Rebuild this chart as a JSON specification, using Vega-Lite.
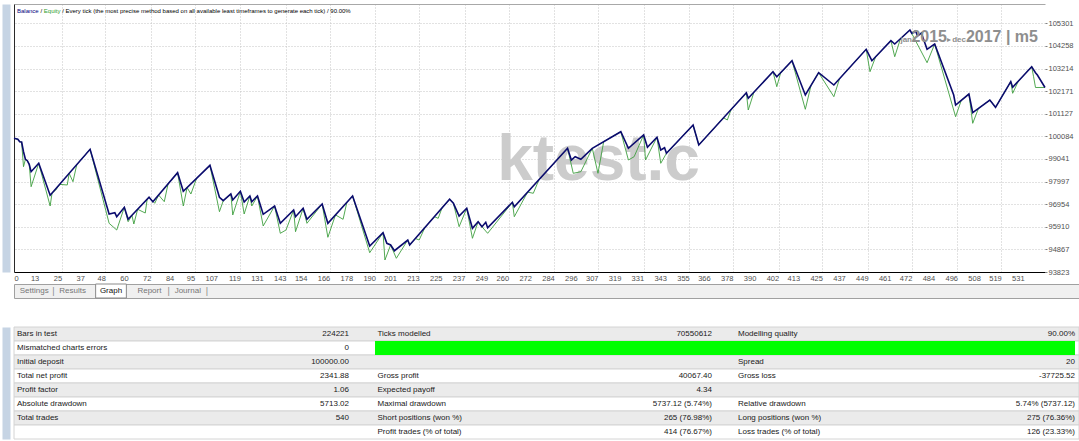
{
  "$schema": "https://vega.github.io/schema/vega-lite/v6.json",
  "padding": {"left": 6, "top": 4, "right": 0, "bottom": 0},
  "background": "white",
  "bounds": "flush",
  "spacing": 12,
  "config": {"font": "Liberation Sans", "view": {"stroke": null}},
  "datasets": {
    "curve": [
      {"s":"Balance","n":0,"v":100000},{"s":"Balance","n":2,"v":99950},{"s":"Balance","n":3,"v":99839},{"s":"Balance","n":4,"v":99825},{"s":"Balance","n":5,"v":99377},{"s":"Balance","n":6,"v":99026},{"s":"Balance","n":7,"v":98962},{"s":"Balance","n":8,"v":98796},{"s":"Balance","n":9,"v":98454},{"s":"Balance","n":13,"v":98842},{"s":"Balance","n":19,"v":97364},{"s":"Balance","n":40,"v":99488},{"s":"Balance","n":50,"v":96501},{"s":"Balance","n":53,"v":96561},{"s":"Balance","n":54,"v":96376},{"s":"Balance","n":58,"v":96810},{"s":"Balance","n":60,"v":96256},{"s":"Balance","n":71,"v":97272},{"s":"Balance","n":73,"v":97069},{"s":"Balance","n":86,"v":98408},{"s":"Balance","n":89,"v":97549},{"s":"Balance","n":103,"v":98749},{"s":"Balance","n":108,"v":97272},{"s":"Balance","n":110,"v":97115},{"s":"Balance","n":114,"v":97424},{"s":"Balance","n":115,"v":97147},{"s":"Balance","n":119,"v":97549},{"s":"Balance","n":121,"v":97055},{"s":"Balance","n":124,"v":97332},{"s":"Balance","n":125,"v":97069},{"s":"Balance","n":128,"v":97332},{"s":"Balance","n":131,"v":96487},{"s":"Balance","n":137,"v":96870},{"s":"Balance","n":140,"v":96071},{"s":"Balance","n":147,"v":96686},{"s":"Balance","n":148,"v":96376},{"s":"Balance","n":152,"v":96764},{"s":"Balance","n":154,"v":96256},{"s":"Balance","n":162,"v":96963},{"s":"Balance","n":165,"v":96071},{"s":"Balance","n":178,"v":97332},{"s":"Balance","n":187,"v":95023},{"s":"Balance","n":194,"v":95637},{"s":"Balance","n":196,"v":95148},{"s":"Balance","n":198,"v":95070},{"s":"Balance","n":200,"v":94806},{"s":"Balance","n":207,"v":95300},{"s":"Balance","n":208,"v":95070},{"s":"Balance","n":229,"v":97180},{"s":"Balance","n":231,"v":96995},{"s":"Balance","n":234,"v":96409},{"s":"Balance","n":238,"v":96764},{"s":"Balance","n":241,"v":95841},{"s":"Balance","n":244,"v":96145},{"s":"Balance","n":246,"v":95915},{"s":"Balance","n":248,"v":96118},{"s":"Balance","n":249,"v":95868},{"s":"Balance","n":262,"v":97041},{"s":"Balance","n":263,"v":96838},{"s":"Balance","n":291,"v":99534},{"s":"Balance","n":293,"v":98994},{"s":"Balance","n":295,"v":99146},{"s":"Balance","n":298,"v":99026},{"s":"Balance","n":304,"v":99534},{"s":"Balance","n":319,"v":100301},{"s":"Balance","n":323,"v":99534},{"s":"Balance","n":331,"v":100148},{"s":"Balance","n":333,"v":99580},{"s":"Balance","n":338,"v":100042},{"s":"Balance","n":340,"v":99456},{"s":"Balance","n":342,"v":99562},{"s":"Balance","n":343,"v":99303},{"s":"Balance","n":357,"v":100610},{"s":"Balance","n":360,"v":99687},{"s":"Balance","n":385,"v":102101},{"s":"Balance","n":386,"v":101843},{"s":"Balance","n":399,"v":103071},{"s":"Balance","n":401,"v":102840},{"s":"Balance","n":409,"v":103579},{"s":"Balance","n":416,"v":101995},{"s":"Balance","n":423,"v":103025},{"s":"Balance","n":431,"v":102457},{"s":"Balance","n":448,"v":104105},{"s":"Balance","n":451,"v":103579},{"s":"Balance","n":461,"v":104502},{"s":"Balance","n":463,"v":104350},{"s":"Balance","n":471,"v":104996},{"s":"Balance","n":472,"v":104844},{"s":"Balance","n":474,"v":104950},{"s":"Balance","n":475,"v":104719},{"s":"Balance","n":477,"v":104858},{"s":"Balance","n":480,"v":104105},{"s":"Balance","n":484,"v":104350},{"s":"Balance","n":494,"v":101995},{"s":"Balance","n":495,"v":101533},{"s":"Balance","n":502,"v":102041},{"s":"Balance","n":504,"v":101178},{"s":"Balance","n":513,"v":101764},{"s":"Balance","n":516,"v":101427},{"s":"Balance","n":524,"v":102609},{"s":"Balance","n":525,"v":102351},{"s":"Balance","n":535,"v":103302},{"s":"Balance","n":537,"v":103025},{"s":"Balance","n":538,"v":102918},{"s":"Balance","n":542,"v":102342},
      {"s":"Equity","n":0,"v":100000},{"s":"Equity","n":2,"v":99950},{"s":"Equity","n":3,"v":99839},{"s":"Equity","n":4,"v":99825},{"s":"Equity","n":5,"v":98685},{"s":"Equity","n":6,"v":99026},{"s":"Equity","n":7,"v":98962},{"s":"Equity","n":8,"v":98796},{"s":"Equity","n":9,"v":97761},{"s":"Equity","n":13,"v":98842},{"s":"Equity","n":19,"v":96870},{"s":"Equity","n":20,"v":97465},{"s":"Equity","n":22,"v":97609},{"s":"Equity","n":24,"v":97870},{"s":"Equity","n":28,"v":97840},{"s":"Equity","n":29,"v":98376},{"s":"Equity","n":31,"v":97992},{"s":"Equity","n":33,"v":98780},{"s":"Equity","n":40,"v":99488},{"s":"Equity","n":50,"v":96071},{"s":"Equity","n":54,"v":95762},{"s":"Equity","n":58,"v":96810},{"s":"Equity","n":60,"v":96145},{"s":"Equity","n":62,"v":96441},{"s":"Equity","n":63,"v":96039},{"s":"Equity","n":65,"v":96718},{"s":"Equity","n":69,"v":96547},{"s":"Equity","n":70,"v":97180},{"s":"Equity","n":71,"v":97272},{"s":"Equity","n":74,"v":96995},{"s":"Equity","n":76,"v":97378},{"s":"Equity","n":79,"v":97069},{"s":"Equity","n":81,"v":97893},{"s":"Equity","n":86,"v":98408},{"s":"Equity","n":89,"v":96870},{"s":"Equity","n":91,"v":97720},{"s":"Equity","n":93,"v":97424},{"s":"Equity","n":96,"v":98149},{"s":"Equity","n":103,"v":98749},{"s":"Equity","n":108,"v":96607},{"s":"Equity","n":110,"v":97115},{"s":"Equity","n":114,"v":97424},{"s":"Equity","n":115,"v":96455},{"s":"Equity","n":119,"v":97549},{"s":"Equity","n":121,"v":96501},{"s":"Equity","n":124,"v":97332},{"s":"Equity","n":125,"v":96870},{"s":"Equity","n":128,"v":97332},{"s":"Equity","n":131,"v":95947},{"s":"Equity","n":137,"v":96870},{"s":"Equity","n":140,"v":95610},{"s":"Equity","n":143,"v":95762},{"s":"Equity","n":147,"v":96686},{"s":"Equity","n":148,"v":95684},{"s":"Equity","n":152,"v":96764},{"s":"Equity","n":154,"v":96071},{"s":"Equity","n":162,"v":96963},{"s":"Equity","n":165,"v":95425},{"s":"Equity","n":169,"v":96459},{"s":"Equity","n":173,"v":96256},{"s":"Equity","n":175,"v":97041},{"s":"Equity","n":178,"v":97332},{"s":"Equity","n":187,"v":94714},{"s":"Equity","n":194,"v":95637},{"s":"Equity","n":195,"v":94377},{"s":"Equity","n":198,"v":95070},{"s":"Equity","n":201,"v":94456},{"s":"Equity","n":207,"v":95300},{"s":"Equity","n":208,"v":95070},{"s":"Equity","n":211,"v":95371},{"s":"Equity","n":213,"v":95300},{"s":"Equity","n":216,"v":95874},{"s":"Equity","n":221,"v":96376},{"s":"Equity","n":223,"v":96302},{"s":"Equity","n":225,"v":96778},{"s":"Equity","n":229,"v":97180},{"s":"Equity","n":231,"v":96995},{"s":"Equity","n":234,"v":95915},{"s":"Equity","n":238,"v":96764},{"s":"Equity","n":241,"v":95379},{"s":"Equity","n":244,"v":96145},{"s":"Equity","n":246,"v":95915},{"s":"Equity","n":249,"v":95610},{"s":"Equity","n":262,"v":97041},{"s":"Equity","n":263,"v":96376},{"s":"Equity","n":270,"v":97512},{"s":"Equity","n":273,"v":97457},{"s":"Equity","n":276,"v":98090},{"s":"Equity","n":291,"v":99534},{"s":"Equity","n":294,"v":98380},{"s":"Equity","n":298,"v":98454},{"s":"Equity","n":304,"v":99534},{"s":"Equity","n":307,"v":98380},{"s":"Equity","n":310,"v":99840},{"s":"Equity","n":319,"v":100301},{"s":"Equity","n":323,"v":98994},{"s":"Equity","n":326,"v":99146},{"s":"Equity","n":331,"v":100148},{"s":"Equity","n":332,"v":98994},{"s":"Equity","n":338,"v":100042},{"s":"Equity","n":340,"v":98842},{"s":"Equity","n":343,"v":99303},{"s":"Equity","n":357,"v":100610},{"s":"Equity","n":360,"v":99687},{"s":"Equity","n":373,"v":100943},{"s":"Equity","n":375,"v":100841},{"s":"Equity","n":377,"v":101330},{"s":"Equity","n":385,"v":102101},{"s":"Equity","n":386,"v":101303},{"s":"Equity","n":389,"v":102127},{"s":"Equity","n":399,"v":103071},{"s":"Equity","n":401,"v":102378},{"s":"Equity","n":403,"v":103007},{"s":"Equity","n":409,"v":103579},{"s":"Equity","n":416,"v":101335},{"s":"Equity","n":419,"v":102437},{"s":"Equity","n":423,"v":103025},{"s":"Equity","n":431,"v":101917},{"s":"Equity","n":434,"v":102748},{"s":"Equity","n":448,"v":104105},{"s":"Equity","n":450,"v":103071},{"s":"Equity","n":453,"v":103764},{"s":"Equity","n":461,"v":104502},{"s":"Equity","n":463,"v":103763},{"s":"Equity","n":466,"v":104592},{"s":"Equity","n":471,"v":104996},{"s":"Equity","n":480,"v":103486},{"s":"Equity","n":484,"v":104350},{"s":"Equity","n":495,"v":100993},{"s":"Equity","n":498,"v":101751},{"s":"Equity","n":502,"v":102041},{"s":"Equity","n":504,"v":100688},{"s":"Equity","n":507,"v":101373},{"s":"Equity","n":513,"v":101764},{"s":"Equity","n":516,"v":101427},{"s":"Equity","n":524,"v":102609},{"s":"Equity","n":525,"v":102074},{"s":"Equity","n":528,"v":102636},{"s":"Equity","n":535,"v":103302},{"s":"Equity","n":536,"v":102840},{"s":"Equity","n":537,"v":102342},{"s":"Equity","n":542,"v":102342}
    ],
    "tabs": [{"tab":"Settings"},{"tab":"Results"},{"tab":"Graph"},{"tab":"Report"},{"tab":"Journal"}],
    "table": [
      {"row":1,"col":"c1","label":"Bars in test","value":"224221"},
      {"row":1,"col":"c2","label":"Ticks modelled","value":"70550612"},
      {"row":1,"col":"c3","label":"Modelling quality","value":"90.00%"},
      {"row":2,"col":"c1","label":"Mismatched charts errors","value":"0"},
      {"row":2,"col":"c2","label":"","value":""},
      {"row":2,"col":"c3","label":"","value":""},
      {"row":3,"col":"c1","label":"Initial deposit","value":"100000.00"},
      {"row":3,"col":"c2","label":"","value":""},
      {"row":3,"col":"c3","label":"Spread","value":"20"},
      {"row":4,"col":"c1","label":"Total net profit","value":"2341.88"},
      {"row":4,"col":"c2","label":"Gross profit","value":"40067.40"},
      {"row":4,"col":"c3","label":"Gross loss","value":"-37725.52"},
      {"row":5,"col":"c1","label":"Profit factor","value":"1.06"},
      {"row":5,"col":"c2","label":"Expected payoff","value":"4.34"},
      {"row":5,"col":"c3","label":"","value":""},
      {"row":6,"col":"c1","label":"Absolute drawdown","value":"5713.02"},
      {"row":6,"col":"c2","label":"Maximal drawdown","value":"5737.12 (5.74%)"},
      {"row":6,"col":"c3","label":"Relative drawdown","value":"5.74% (5737.12)"},
      {"row":7,"col":"c1","label":"Total trades","value":"540"},
      {"row":7,"col":"c2","label":"Short positions (won %)","value":"265 (76.98%)"},
      {"row":7,"col":"c3","label":"Long positions (won %)","value":"275 (76.36%)"},
      {"row":8,"col":"c1","label":"","value":""},
      {"row":8,"col":"c2","label":"Profit trades (% of total)","value":"414 (76.67%)"},
      {"row":8,"col":"c3","label":"Loss trades (% of total)","value":"126 (23.33%)"}
    ]
  },
  "vconcat": [
    {
      "width": 1031,
      "height": 268,
      "view": {"stroke": null},
      "resolve": {"axis": {"x": "independent", "y": "independent"}},
      "layer": [
        {
          "data": {"values": [{}]},
          "mark": {"type": "text", "text": "ktest.c", "font": "Liberation Sans", "fontWeight": "bold", "fontSize": 64, "color": "#cccccc", "align": "left", "baseline": "alphabetic"},
          "encoding": {
            "x": {"datum": 254, "type": "quantitative", "scale": {"domain": [0, 542], "nice": false, "zero": false},
                  "axis": {"orient": "bottom", "values": [25,48,72,95,119,143,166,190,213,237,260,284,307,331,355,378,402,425,449,472,496,519], "grid": true, "gridColor": "#c4c4c4", "gridDash": [1, 2], "gridWidth": 1, "labels": false, "ticks": false, "domain": false, "title": null}},
            "y": {"datum": 98070, "type": "quantitative", "scale": {"domain": [93823, 106197], "nice": false, "zero": false},
                  "axis": {"orient": "left", "grid": false, "labels": false, "ticks": false, "domain": true, "domainColor": "#2a2a2a", "title": null}}
          }
        },
        {
          "data": {"name": "curve"},
          "transform": [{"filter": "datum.s == 'Equity'"}],
          "mark": {"type": "line", "color": "#3f9f3f", "strokeWidth": 0.9},
          "encoding": {
            "x": {"field": "n", "type": "quantitative", "scale": {"domain": [0, 542], "nice": false, "zero": false},
                  "axis": {"orient": "bottom", "values": [0,13,25,37,48,60,72,84,95,107,119,131,143,154,166,178,190,201,213,225,237,249,260,272,284,296,307,319,331,343,355,366,378,390,402,413,425,437,449,461,472,484,496,508,519,531],
                           "grid": false, "ticks": false, "domain": true, "domainColor": "#000000", "labelFontSize": 7.5, "labelColor": "#505050", "labelPadding": 2, "labelOverlap": false, "labelFlush": false, "labelBound": false,
                           "labelAlign": {"condition": {"test": "datum.value == 0", "value": "left"}, "value": "right"}, "title": null}},
            "y": {"field": "v", "type": "quantitative", "scale": {"domain": [93823, 106197], "nice": false, "zero": false},
                  "axis": {"orient": "right", "values": [93823,94867,95910,96954,97997,99041,100084,101127,102171,103214,104258,105301], "format": "d", "grid": true, "gridColor": "#c4c4c4", "gridDash": [1, 2], "gridWidth": 1, "ticks": true, "tickSize": 2, "tickColor": "#808080", "domain": false, "labelFontSize": 7.5, "labelColor": "#505050", "labelPadding": 1, "title": null}}
          }
        },
        {
          "data": {"name": "curve"},
          "transform": [{"filter": "datum.s == 'Balance'"}],
          "mark": {"type": "line", "color": "#0b0b6e", "strokeWidth": 1.6},
          "encoding": {
            "x": {"field": "n", "type": "quantitative", "scale": {"domain": [0, 542], "nice": false, "zero": false}, "axis": null},
            "y": {"field": "v", "type": "quantitative", "scale": {"domain": [93823, 106197], "nice": false, "zero": false},
                  "axis": {"orient": "left", "offset": 8, "grid": false, "labels": false, "ticks": false, "domain": true, "domainColor": "#c6d4e4", "domainWidth": 8, "title": null}}
          }
        },
        {
          "data": {"values": [{}]},
          "mark": {"type": "text", "text": "Balance", "fontSize": 6, "color": "#000080", "align": "left", "baseline": "middle", "dx": 3, "dy": 7},
          "encoding": {
            "x": {"datum": 0, "type": "quantitative", "scale": {"domain": [0, 542], "nice": false, "zero": false},
                  "axis": {"orient": "top", "labels": false, "ticks": false, "grid": false, "domain": true, "domainColor": "#a8a8a8", "title": null}},
            "y": {"datum": 106197, "type": "quantitative", "scale": {"domain": [93823, 106197], "nice": false, "zero": false}, "axis": null}
          }
        },
        {
          "data": {"values": [{}]},
          "mark": {"type": "text", "text": "/", "fontSize": 6, "color": "#000000", "align": "left", "baseline": "middle", "dx": 26.4, "dy": 7},
          "encoding": {
            "x": {"datum": 0, "type": "quantitative", "scale": {"domain": [0, 542], "nice": false, "zero": false}, "axis": null},
            "y": {"datum": 106197, "type": "quantitative", "scale": {"domain": [93823, 106197], "nice": false, "zero": false}, "axis": null}
          }
        },
        {
          "data": {"values": [{}]},
          "mark": {"type": "text", "text": "Equity", "fontSize": 6, "color": "#2e9e2e", "align": "left", "baseline": "middle", "dx": 29.8, "dy": 7},
          "encoding": {
            "x": {"datum": 0, "type": "quantitative", "scale": {"domain": [0, 542], "nice": false, "zero": false}, "axis": null},
            "y": {"datum": 106197, "type": "quantitative", "scale": {"domain": [93823, 106197], "nice": false, "zero": false}, "axis": null}
          }
        },
        {
          "data": {"values": [{}]},
          "mark": {"type": "text", "text": "/ Every tick (the most precise method based on all available least timeframes to generate each tick) / 90.00%", "fontSize": 6, "color": "#000000", "align": "left", "baseline": "middle", "dx": 48.2, "dy": 7},
          "encoding": {
            "x": {"datum": 0, "type": "quantitative", "scale": {"domain": [0, 542], "nice": false, "zero": false}, "axis": null},
            "y": {"datum": 106197, "type": "quantitative", "scale": {"domain": [93823, 106197], "nice": false, "zero": false}, "axis": null}
          }
        },
        {
          "data": {"values": [{}]},
          "mark": {"type": "text", "text": "2017 | m5", "fontSize": 16, "fontWeight": "bold", "color": "#8e8e8e", "align": "right", "baseline": "alphabetic", "dx": -7},
          "encoding": {
            "x": {"datum": 542, "type": "quantitative", "scale": {"domain": [0, 542], "nice": false, "zero": false}, "axis": null},
            "y": {"datum": 104442, "type": "quantitative", "scale": {"domain": [93823, 106197], "nice": false, "zero": false}, "axis": null}
          }
        },
        {
          "data": {"values": [{}]},
          "mark": {"type": "text", "text": "dec", "fontSize": 8, "fontWeight": "bold", "color": "#8e8e8e", "align": "right", "baseline": "alphabetic", "dx": -79},
          "encoding": {
            "x": {"datum": 542, "type": "quantitative", "scale": {"domain": [0, 542], "nice": false, "zero": false}, "axis": null},
            "y": {"datum": 104442, "type": "quantitative", "scale": {"domain": [93823, 106197], "nice": false, "zero": false}, "axis": null}
          }
        },
        {
          "data": {"values": [{}]},
          "mark": {"type": "text", "text": "▸", "font": "DejaVu Sans", "fontSize": 8, "color": "#8e8e8e", "align": "right", "baseline": "alphabetic", "dx": -94},
          "encoding": {
            "x": {"datum": 542, "type": "quantitative", "scale": {"domain": [0, 542], "nice": false, "zero": false}, "axis": null},
            "y": {"datum": 104442, "type": "quantitative", "scale": {"domain": [93823, 106197], "nice": false, "zero": false}, "axis": null}
          }
        },
        {
          "data": {"values": [{}]},
          "mark": {"type": "text", "text": "2015", "fontSize": 16, "fontWeight": "bold", "color": "#8e8e8e", "align": "right", "baseline": "alphabetic", "dx": -98},
          "encoding": {
            "x": {"datum": 542, "type": "quantitative", "scale": {"domain": [0, 542], "nice": false, "zero": false}, "axis": null},
            "y": {"datum": 104442, "type": "quantitative", "scale": {"domain": [93823, 106197], "nice": false, "zero": false}, "axis": null}
          }
        },
        {
          "data": {"values": [{}]},
          "mark": {"type": "text", "text": "jan", "fontSize": 8, "fontWeight": "bold", "color": "#8e8e8e", "align": "right", "baseline": "alphabetic", "dx": -133},
          "encoding": {
            "x": {"datum": 542, "type": "quantitative", "scale": {"domain": [0, 542], "nice": false, "zero": false}, "axis": null},
            "y": {"datum": 104442, "type": "quantitative", "scale": {"domain": [93823, 106197], "nice": false, "zero": false}, "axis": null}
          }
        }
      ]
    },
    {
      "bounds": "flush",
      "spacing": 29,
      "vconcat": [
        {
          "width": 1065,
          "height": 14,
          "view": {"fill": "#f0f0f0", "stroke": "#a0a0a0"},
          "data": {"name": "tabs"},
          "layer": [
            {
              "transform": [{"filter": "datum.tab == 'Graph'"}],
              "mark": {"type": "rect", "fill": "#ffffff", "stroke": "#8a8a8a", "strokeWidth": 1, "width": {"band": 0.8}},
              "encoding": {
                "x": {"field": "tab", "type": "nominal", "sort": null, "scale": {"type": "band", "domain": ["Settings","Results","Graph","Report","Journal"], "range": [1, 193], "paddingInner": 0, "paddingOuter": 0}, "axis": null}
              }
            },
            {
              "mark": {"type": "text", "fontSize": 8, "baseline": "middle", "align": "center"},
              "encoding": {
                "x": {"field": "tab", "type": "nominal", "sort": null, "scale": {"type": "band", "domain": ["Settings","Results","Graph","Report","Journal"], "range": [1, 193], "paddingInner": 0, "paddingOuter": 0}, "axis": null},
                "text": {"field": "tab"},
                "color": {"condition": {"test": "datum.tab == 'Graph'", "value": "#101010"}, "value": "#767676"}
              }
            },
            {
              "transform": [{"filter": "datum.tab == 'Settings' || datum.tab == 'Report' || datum.tab == 'Journal'"}],
              "mark": {"type": "text", "text": "|", "fontSize": 9, "baseline": "middle", "align": "center", "dx": 19.2, "color": "#8a8a8a"},
              "encoding": {
                "x": {"field": "tab", "type": "nominal", "sort": null, "scale": {"type": "band", "domain": ["Settings","Results","Graph","Report","Journal"], "range": [1, 193], "paddingInner": 0, "paddingOuter": 0}, "axis": null}
              }
            }
          ]
        },
        {
          "width": 1065,
          "height": 112,
          "view": {"stroke": null},
          "data": {"name": "table"},
          "resolve": {"scale": {"x": "independent"}},
          "layer": [
            {
              "transform": [{"filter": "datum.col == 'c1'"}],
              "mark": {"type": "rect", "stroke": "#d4d4d4", "strokeWidth": 1},
              "encoding": {
                "y": {"field": "row", "type": "ordinal", "scale": {"type": "band", "paddingInner": 0, "paddingOuter": 0},
                      "axis": {"orient": "left", "offset": 8, "grid": false, "labels": false, "ticks": false, "domain": true, "domainColor": "#c6d4e4", "domainWidth": 8, "title": null}},
                "color": {"condition": {"test": "datum.row % 2 == 1", "value": "#ebebeb"}, "value": "#ffffff"}
              }
            },
            {
              "data": {"values": [{}]},
              "mark": {"type": "rect", "color": "#00ff00"},
              "encoding": {
                "x": {"datum": 0, "type": "quantitative", "scale": {"domain": [0, 1], "range": [361, 1061], "nice": false, "zero": false}, "axis": null},
                "x2": {"datum": 1},
                "y": {"datum": 2, "type": "ordinal"}
              }
            },
            {
              "mark": {"type": "text", "fontSize": 8, "align": "left", "baseline": "middle", "color": "#202020"},
              "encoding": {
                "x": {"field": "col", "type": "nominal", "scale": {"type": "point", "range": [3, 724], "padding": 0}, "axis": null},
                "y": {"field": "row", "type": "ordinal"},
                "text": {"field": "label"}
              }
            },
            {
              "mark": {"type": "text", "fontSize": 8, "align": "right", "baseline": "middle", "color": "#202020"},
              "encoding": {
                "x": {"field": "col", "type": "nominal", "scale": {"type": "point", "range": [335, 1061], "padding": 0}, "axis": null},
                "y": {"field": "row", "type": "ordinal"},
                "text": {"field": "value"}
              }
            }
          ]
        }
      ]
    }
  ]
}
